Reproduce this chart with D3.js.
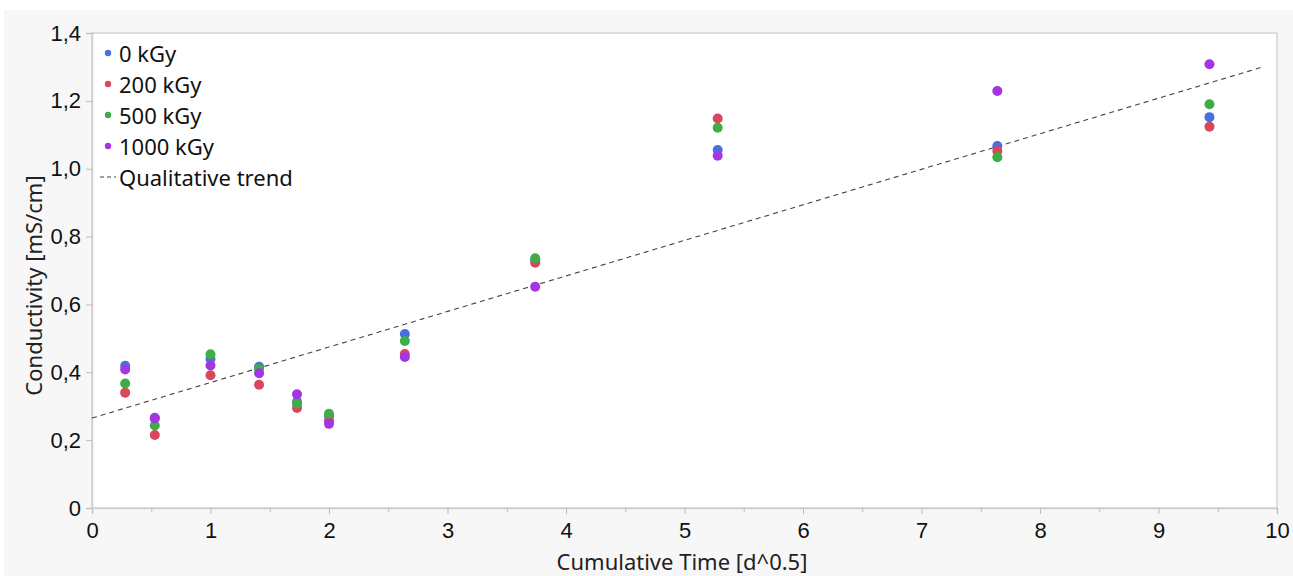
<!DOCTYPE html>
<html>
<head>
<meta charset="utf-8">
<script src="https://d3js.org/d3.v7.min.js"></script>
<style>
    html, body { margin: 0; padding: 0; background: #fff; }
    svg { display: block; font-family: "Noto Sans", "Open Sans", sans-serif; }
</style>
</head>
<body>
<svg id="chart" width="1293" height="576"></svg>
<script>
// cumulative time in d^0.5
var times = [0.28, 0.53, 1.0, 1.41, 1.73, 2.0, 2.64, 3.74, 5.28, 7.64, 9.43];

// conductivity [mS/cm] per dose
var dose0 = [0.419, 0.266, 0.439, 0.416, 0.313, 0.271, 0.513, 0.730, 1.055, 1.067, 1.152];
var dose200 = [0.340, 0.215, 0.391, 0.363, 0.295, 0.257, 0.454, 0.723, 1.148, 1.052, 1.124];
var dose500 = [0.367, 0.243, 0.453, 0.410, 0.308, 0.278, 0.492, 0.736, 1.121, 1.034, 1.190];
var dose1000 = [0.408, 0.264, 0.420, 0.397, 0.335, 0.248, 0.445, 0.652, 1.038, 1.229, 1.308];

var seriesNames = ["0 kGy", "200 kGy", "500 kGy", "1000 kGy"];
var seriesColors = ["#4a6fe0", "#d8485a", "#3dae46", "#a535e2"];
var seriesValues = [dose0, dose200, dose500, dose1000];

// qualitative trend line end points (x, y)
var trendX = [0, 9.88];
var trendY = [0.265, 1.30];

var xTicks = [0, 1, 2, 3, 4, 5, 6, 7, 8, 9, 10];
var yTicks = [0, 0.2, 0.4, 0.6, 0.8, 1.0, 1.2, 1.4];

var svg = d3.select("#chart");
var plot = { left: 92, top: 33, right: 1277, bottom: 508 };
var fontSize = "22px";

// gray panel behind everything
svg.append("rect")
    .attr("x", 4).attr("y", 10)
    .attr("width", 1289).attr("height", 566)
    .attr("fill", "#f7f7f7");

svg.append("rect")
    .attr("x", plot.left).attr("y", plot.top)
    .attr("width", plot.right - plot.left).attr("height", plot.bottom - plot.top)
    .attr("fill", "#fff")
    .attr("stroke", "#d4d4d4")
    .attr("stroke-width", 1.5);

var x = d3.scaleLinear().domain([0, 10]).range([plot.left, plot.right]);
var y = d3.scaleLinear().domain([0, 1.4]).range([plot.bottom, plot.top]);

var fmt = function (d) { return d === 0 ? "0" : d3.format(".1f")(d).replace(".", ","); };

// x axis
svg.append("g")
    .attr("transform", "translate(0," + plot.bottom + ")")
    .call(d3.axisBottom(x).tickValues(xTicks).tickSize(6).tickPadding(8));
svg.append("g")
    .attr("transform", "translate(0," + plot.bottom + ")")
    .call(d3.axisBottom(x).tickValues(d3.range(0.5, 10, 1)).tickSize(4).tickFormat(""))
    .select(".domain").remove();

// y axis
svg.append("g")
    .attr("transform", "translate(" + plot.left + ",0)")
    .call(d3.axisLeft(y).tickValues(yTicks).tickSize(6).tickPadding(5).tickFormat(fmt));

svg.selectAll(".domain").attr("stroke", "#cfcfcf").attr("stroke-width", 1.5);
svg.selectAll(".tick line").attr("stroke", "#bdbdbd");
svg.selectAll(".tick text").attr("fill", "#111").style("font-size", fontSize);

// axis titles
svg.append("text")
    .attr("x", 682)
    .attr("y", 570)
    .attr("text-anchor", "middle")
    .attr("fill", "#222")
    .style("font-size", fontSize)
    .text("Cumulative Time [d^0.5]");

svg.append("text")
    .attr("transform", "translate(42," + ((plot.top + plot.bottom) / 2 + 15) + ") rotate(-90)")
    .attr("text-anchor", "middle")
    .attr("fill", "#222")
    .style("font-size", fontSize)
    .text("Conductivity [mS/cm]");

// trend line
svg.append("line")
    .attr("x1", x(trendX[0])).attr("y1", y(trendY[0]))
    .attr("x2", x(trendX[1])).attr("y2", y(trendY[1]))
    .attr("stroke", "#444")
    .attr("stroke-width", 1.1)
    .attr("stroke-dasharray", "5,4");

// points
seriesValues.forEach(function (vals, i) {
    svg.append("g").selectAll("circle")
        .data(vals)
        .enter().append("circle")
        .attr("cx", function (d, j) { return x(times[j]); })
        .attr("cy", function (d) { return y(d); })
        .attr("r", 5)
        .attr("fill", seriesColors[i]);
});

// legend
var legend = svg.append("g");
var rowH = 31;
seriesNames.forEach(function (name, i) {
    var ry = 54 + i * rowH;
    legend.append("circle")
        .attr("cx", 108).attr("cy", ry - 1)
        .attr("r", 3.2)
        .attr("fill", seriesColors[i]);
    legend.append("text")
        .attr("x", 119).attr("y", ry + 8)
        .attr("fill", "#111")
        .style("font-size", fontSize)
        .text(name);
});
var ty = 54 + 4 * rowH;
legend.append("line")
    .attr("x1", 100).attr("x2", 116)
    .attr("y1", ty - 1).attr("y2", ty - 1)
    .attr("stroke", "#444")
    .attr("stroke-dasharray", "4,3");
legend.append("text")
    .attr("x", 119).attr("y", ty + 8)
    .attr("fill", "#111")
    .style("font-size", fontSize)
    .text("Qualitative trend");
</script>
</body>
</html>
